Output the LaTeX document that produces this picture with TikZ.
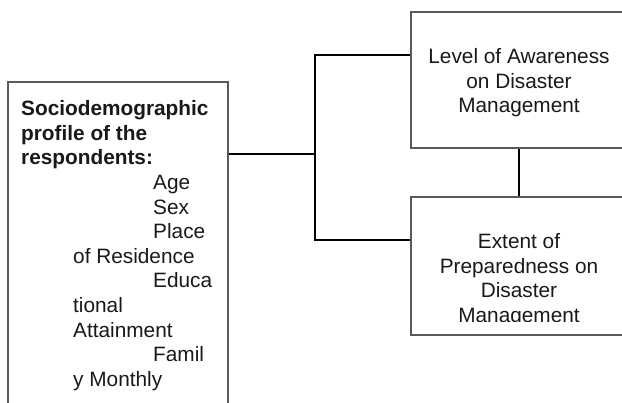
\documentclass[tikz,border=0pt]{standalone}
\usepackage{fontspec}
\setmainfont{Liberation Sans}
\begin{document}
\begin{tikzpicture}[x=1pt,y=-1pt,
  box/.style={draw=black!65,line width=1.2pt,rectangle,inner sep=0pt},
  txt/.style={inner sep=0pt,font=\fontsize{20.8}{24.5}\selectfont,text=black!90},
  conn/.style={draw=black,line width=1.7pt}]
\useasboundingbox (0,0) rectangle (622,403);
\clip (0,0) rectangle (622,403);
\fill[white] (0,0) rectangle (622,403);
% boxes
\node[box,minimum width=220pt,minimum height=338pt] (profile) at (118,251) {};
\node[box,minimum width=216pt,minimum height=136pt] (aware) at (519,80) {};
\node[box,minimum width=216pt,minimum height=138pt] (prep) at (519,266) {};
% texts
\node[txt,anchor=north west,align=left,font=\fontsize{20.8}{24.6}\selectfont] (ptext) at (21,100.5)
{\textbf{Sociodemographic}\\
 \textbf{profile of the}\\
 \textbf{respondents:}\\
 \hspace*{132pt}Age\\
 \hspace*{132pt}Sex\\
 \hspace*{132pt}Place\\
 \hspace*{52pt}of Residence\\
 \hspace*{132pt}Educa\\
 \hspace*{52pt}tional\\
 \hspace*{52pt}Attainment\\
 \hspace*{132pt}Famil\\
 \hspace*{52pt}y Monthly};
\node[txt,anchor=north,align=center] (atext) at (519,48.3)
{Level of Awareness\\on Disaster\\Management};
\begin{scope}
\clip (411,197) rectangle (627,322);
\node[txt,anchor=north,align=center] (etext) at (519,233.3)
{Extent of\\Preparedness on\\Disaster\\Management};
\end{scope}
% connectors
\coordinate (j) at (315,154);
\draw[conn] (profile.east |- j) -- (j);
\draw[conn] ([yshift=25pt]aware.west) -| (j);
\draw[conn] (j) |- ([yshift=26pt]prep.west);
\draw[conn] (aware.south) -- (prep.north);
\end{tikzpicture}
\end{document}
